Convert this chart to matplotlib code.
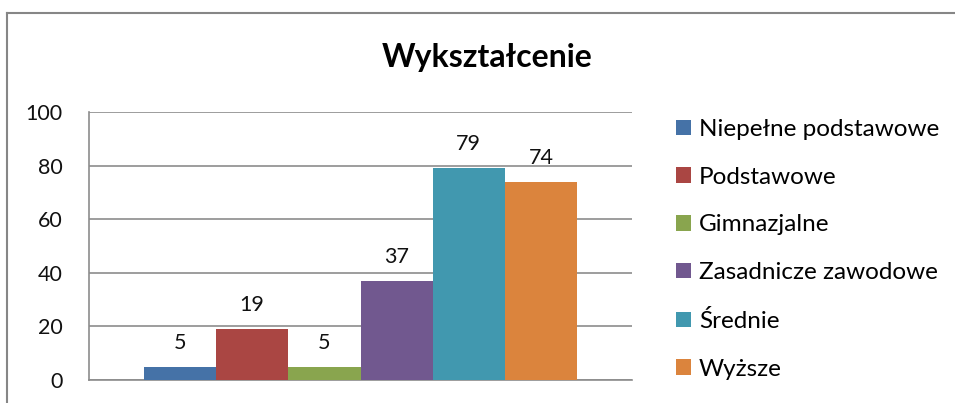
import matplotlib
matplotlib.use('Agg')

import matplotlib.pyplot as plt
from matplotlib.lines import Line2D

categories = ['Niepełne podstawowe', 'Podstawowe', 'Gimnazjalne',
              'Zasadnicze zawodowe', 'Średnie', 'Wyższe']
values = [5, 19, 5, 37, 79, 74]
colors = ['#4572A7', '#AA4643', '#89A54E', '#71588F', '#4198AF', '#DB843D']
yticks = [0, 20, 40, 60, 80, 100]

plt.rcParams['font.family'] = ['Lato', 'DejaVu Sans']

fig = plt.figure(figsize=(9.55, 4.03), dpi=100)
ax = fig.add_axes([0.0932, 0.0571, 0.5686, 0.665])

for i, (name, v, c) in enumerate(zip(categories, values, colors)):
    bars = ax.bar(i, v, width=1.0, color=c, label=name, zorder=3)
    ax.bar_label(bars, padding=10, fontsize=15.5, color='#111111')

ax.set_ylim(0, 100)
ax.set_xlim(-0.5 - 0.76, 5.5 + 0.76)
ax.set_yticks(yticks)
ax.set_xticks([])
ax.tick_params(axis='y', length=0, pad=19, labelsize=15.5, labelcolor='#111111')
ax.yaxis.grid(True, color='#8c8c8c', linewidth=1.2, zorder=0)
for side in ['top', 'right']:
    ax.spines[side].set_visible(False)
for side in ['left', 'bottom']:
    ax.spines[side].set_color('#8c8c8c')
    ax.spines[side].set_linewidth(1.2)

fig.text(0.51, 0.857, 'Wykształcenie', ha='center', va='center',
         fontsize=23, fontweight='bold', color='#000000')

ax.legend(loc='upper left', bbox_to_anchor=(0.698, 0.729),
          bbox_transform=fig.transFigure, frameon=False, fontsize=17.5,
          handlelength=0.6, handleheight=0.6, handletextpad=0.33,
          labelspacing=1.1, borderaxespad=0)

# outer chart border (left and top edges visible)
x0, y0 = 7 / 955, 1 - 13 / 403
fig.add_artist(Line2D([x0, x0], [-0.02, y0], color='#868686', linewidth=1.5))
fig.add_artist(Line2D([x0, 1.01], [y0, y0], color='#868686', linewidth=1.5))

plt.savefig('out.png', dpi=100)
